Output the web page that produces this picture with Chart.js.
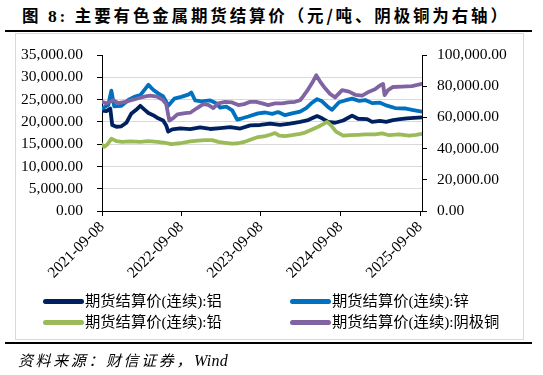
<!DOCTYPE html>
<html>
<head>
<meta charset="utf-8">
<script src="https://cdn.jsdelivr.net/npm/chart.js@4.4.1/dist/chart.umd.min.js"></script>
<style>
html,body{margin:0;padding:0;background:#fff;width:543px;height:375px;overflow:hidden;}
body{position:relative;}
#title{position:absolute;left:22px;top:4px;font-weight:bold;font-size:16.5px;font-family:"Noto Sans CJK SC";letter-spacing:2.85px;color:#000;white-space:nowrap;line-height:22px;}
#title .num{font-family:"Liberation Serif";font-size:17.5px;}
#topline{position:absolute;left:5px;top:30px;width:527px;height:2px;background:#000;}
#box{position:absolute;left:15px;top:33px;width:507px;height:305px;border:1px solid #D9D9D9;}
#botline{position:absolute;left:5px;top:342px;width:527px;height:2px;background:#000;}
#source{position:absolute;left:18px;top:350px;font-size:15px;font-family:"Noto Sans CJK SC";font-style:italic;letter-spacing:2.6px;color:#000;white-space:nowrap;line-height:20px;}
#source .en{font-family:"Liberation Serif";font-size:16px;letter-spacing:0.3px;}
canvas{position:absolute;left:0;top:0;}
.lg{position:absolute;white-space:nowrap;font-size:15.3px;font-family:"Liberation Serif","Noto Sans CJK SC";color:#000;line-height:20px;}
.lg i{display:inline-block;width:41px;height:5px;border-radius:3px;vertical-align:middle;margin-right:1px;position:relative;top:-1px;}
</style>
</head>
<body>
<div id="title">图 <span class="num">8:</span> 主要有色金属期货结算价（元/吨、阴极铜为右轴）</div>
<div id="topline"></div>
<div id="box"></div>
<canvas id="c" width="543" height="375"></canvas>
<div id="legend"></div>
<div id="botline"></div>
<div id="source">资料来源：财信证券，<span class="en"><i>Wind</i></span></div>
<script>
// x values are days since 2021-09-08
const tickDays = [0, 365, 730, 1096, 1461];
const tickLabels = ['2021-09-08', '2022-09-08', '2023-09-08', '2024-09-08', '2025-09-08'];
const leftTicks = [0, 5000, 10000, 15000, 20000, 25000, 30000, 35000];
const rightTicks = [0, 20000, 40000, 60000, 80000, 100000];

const seriesNames = ['期货结算价(连续):铝', '期货结算价(连续):锌', '期货结算价(连续):铅', '期货结算价(连续):阴极铜'];

const aluminumDays  = [0, 20, 38, 47, 66, 89, 112, 134, 157, 176, 194, 213, 235, 258, 281, 295, 304, 323, 359, 405, 451, 497, 543, 589, 635, 681, 727, 772, 818, 864, 910, 947, 988, 1011, 1039, 1071, 1108, 1149, 1176, 1218, 1241, 1277, 1305, 1337, 1369, 1401, 1433, 1470];
const aluminumPrice = [22500, 22400, 23000, 19300, 18900, 19000, 19800, 21800, 22700, 23600, 22800, 22000, 21500, 20800, 20300, 19200, 17800, 18300, 18550, 18350, 18750, 18400, 18600, 18800, 18500, 19200, 19300, 19600, 19300, 19600, 20000, 20400, 21300, 20800, 20000, 19800, 20300, 21400, 20700, 20600, 20000, 20200, 20000, 20400, 20600, 20800, 20900, 21000];

const zincDays  = [0, 15, 29, 43, 56, 89, 121, 148, 176, 213, 235, 258, 281, 295, 304, 332, 364, 396, 410, 428, 456, 497, 520, 543, 571, 598, 621, 644, 672, 717, 750, 782, 809, 841, 873, 910, 938, 965, 988, 1011, 1039, 1057, 1089, 1117, 1149, 1181, 1209, 1241, 1277, 1305, 1346, 1392, 1424, 1470];
const zincPrice = [23000, 23400, 23800, 27000, 23500, 23600, 24900, 25600, 26000, 28300, 27200, 26400, 25700, 24500, 23600, 25200, 25600, 26100, 26600, 24800, 24600, 24800, 24300, 23200, 23400, 22600, 20500, 20800, 21200, 21900, 22100, 21800, 22200, 21500, 21900, 22300, 23100, 24300, 25100, 24600, 23300, 22700, 24400, 24800, 25200, 24700, 24900, 24200, 24300, 23700, 23100, 23000, 22700, 22300];

const leadDays  = [0, 11, 24, 43, 66, 93, 130, 176, 213, 254, 291, 318, 359, 405, 442, 474, 506, 534, 566, 598, 626, 653, 681, 717, 750, 772, 795, 814, 841, 873, 910, 933, 965, 993, 1016, 1034, 1052, 1075, 1108, 1140, 1176, 1209, 1254, 1287, 1319, 1365, 1411, 1443, 1470];
const leadPrice = [14900, 14400, 14900, 16200, 15700, 15500, 15600, 15500, 15700, 15500, 15300, 15000, 15200, 15600, 15800, 15900, 15900, 15500, 15300, 15100, 15200, 15500, 16000, 16600, 16800, 17100, 17500, 16900, 16800, 17000, 17300, 17600, 18300, 18900, 19500, 20000, 19200, 17800, 16900, 17000, 17100, 17200, 17200, 17400, 17000, 17200, 16900, 17100, 17300];

const copperDays  = [0, 20, 52, 75, 107, 134, 167, 199, 222, 254, 281, 295, 309, 327, 346, 382, 405, 437, 465, 488, 511, 534, 566, 598, 626, 653, 681, 708, 736, 763, 795, 828, 855, 887, 910, 924, 947, 965, 984, 1002, 1020, 1048, 1071, 1103, 1135, 1163, 1195, 1227, 1254, 1277, 1291, 1298, 1314, 1337, 1378, 1424, 1470];
const copperPrice = [70000, 69000, 71000, 69200, 70000, 71000, 72300, 73500, 74000, 73300, 71000, 68500, 58000, 59500, 62000, 62700, 63000, 66000, 68500, 68000, 66000, 69000, 70000, 69600, 67900, 68500, 70000, 70000, 69000, 67900, 69000, 69000, 69600, 70000, 71000, 73500, 78000, 82000, 87000, 83000, 79500, 75000, 72800, 77500, 76500, 74500, 74000, 76500, 78000, 80500, 81500, 74300, 77500, 79500, 79700, 80000, 81500];

const colors = ['#002060', '#0070C0', '#9BBB59', '#8064A2'];

function pts(xs, ys) { return xs.map((x, i) => ({ x: x, y: ys[i] })); }
function fmt(v) { return Number(v).toLocaleString('en-US', { minimumFractionDigits: 2, maximumFractionDigits: 2 }); }

const tickFont = { family: 'Liberation Serif', size: 15.5 };
const common = { borderWidth: 3.8, pointRadius: 0, tension: 0, borderJoinStyle: 'round', borderCapStyle: 'round', fill: false };

const chart = new Chart(document.getElementById('c'), {
  type: 'line',
  data: {
    datasets: [
      Object.assign({ label: seriesNames[0], data: pts(aluminumDays, aluminumPrice), borderColor: colors[0], yAxisID: 'yL', order: 4 }, common),
      Object.assign({ label: seriesNames[1], data: pts(zincDays, zincPrice), borderColor: colors[1], yAxisID: 'yL', order: 3 }, common),
      Object.assign({ label: seriesNames[2], data: pts(leadDays, leadPrice), borderColor: colors[2], yAxisID: 'yL', order: 2 }, common),
      Object.assign({ label: seriesNames[3], data: pts(copperDays, copperPrice), borderColor: colors[3], yAxisID: 'yR', order: 1 }, common)
    ]
  },
  options: {
    responsive: false,
    animation: false,
    devicePixelRatio: 1,
    layout: { padding: { top: 55, left: 0, right: 0, bottom: 0 } },
    plugins: { legend: { display: false }, tooltip: { enabled: false } },
    scales: {
      x: {
        type: 'linear',
        min: 0, max: 1470,
        afterBuildTicks: s => { s.ticks = tickDays.map(v => ({ value: v })); },
        afterFit: s => { s.height = 164; },
        ticks: {
          autoSkip: false, maxRotation: 45, minRotation: 45, padding: 2,
          color: '#000', font: tickFont,
          callback: v => { const i = tickDays.indexOf(v); return i >= 0 ? tickLabels[i] : ''; }
        },
        grid: { drawOnChartArea: false, drawTicks: true, tickLength: 5, tickColor: '#000' },
        border: { color: '#000', width: 1 }
      },
      yL: {
        type: 'linear', position: 'left',
        min: 0, max: 35000,
        afterBuildTicks: s => { s.ticks = leftTicks.map(v => ({ value: v })); },
        afterFit: s => { s.width = 102; },
        ticks: { color: '#000', font: tickFont, padding: 14, callback: v => fmt(v) },
        grid: {
          color: c => (c.tick && c.tick.value === 35000) ? 'rgba(0,0,0,0)' : '#D9D9D9',
          lineWidth: 1, drawTicks: true, tickLength: 5, tickColor: '#000'
        },
        border: { color: '#000', width: 1 }
      },
      yR: {
        type: 'linear', position: 'right',
        min: 0, max: 100000,
        afterBuildTicks: s => { s.ticks = rightTicks.map(v => ({ value: v })); },
        afterFit: s => { s.width = 121; },
        ticks: { color: '#000', font: tickFont, padding: 10, callback: v => fmt(v) },
        grid: { drawOnChartArea: false, drawTicks: true, tickLength: 5, tickColor: '#000' },
        border: { color: '#000', width: 1 }
      }
    }
  }
});

// HTML legend built from the chart's datasets
const legendPos = [[43, 291], [290, 291], [43, 312], [290, 312]];
const lg = document.getElementById('legend');
chart.data.datasets.forEach((ds, i) => {
  const d = document.createElement('div');
  d.className = 'lg';
  d.style.left = legendPos[i][0] + 'px';
  d.style.top = legendPos[i][1] + 'px';
  d.innerHTML = '<i style="background:' + ds.borderColor + '"></i>' + ds.label;
  lg.appendChild(d);
});
</script>
</body>
</html>
